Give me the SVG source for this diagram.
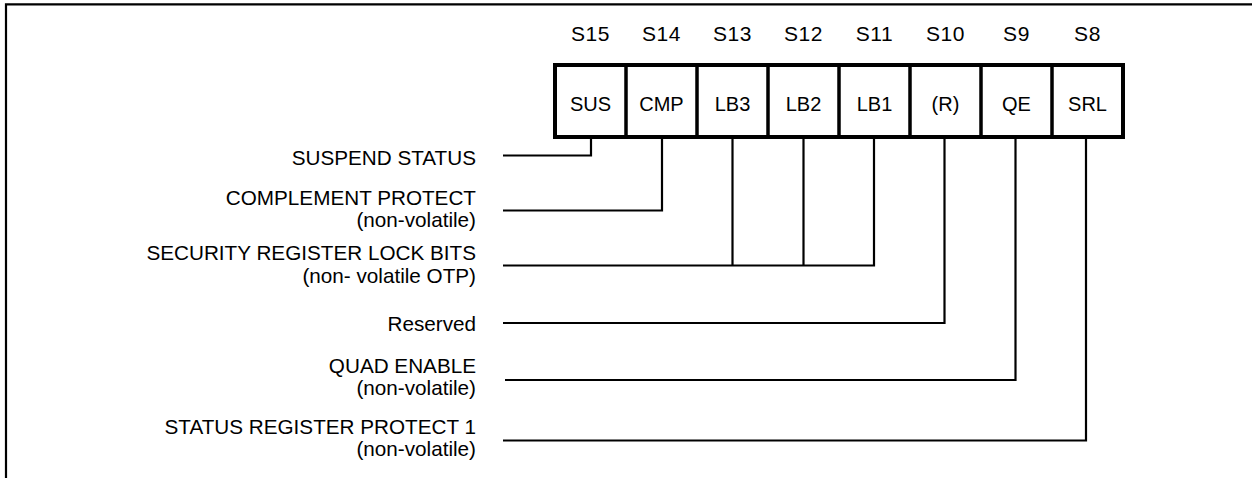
<svg xmlns="http://www.w3.org/2000/svg" width="1252" height="478" viewBox="0 0 1252 478">
<style>
text{font-family:"Liberation Sans",Arial,sans-serif;font-size:20.7px;fill:#000}
.hdr{text-anchor:middle;font-size:21px;letter-spacing:0.6px}
.cell{text-anchor:middle;font-size:20px}
.lbl{text-anchor:end}
.box{fill:#fff;stroke:#000;stroke-width:4}
.div{stroke:#000;stroke-width:3.5}
.con{fill:none;stroke:#000;stroke-width:2.2}
.frame{fill:none;stroke:#000;stroke-width:2.2}
</style>
<rect width="1252" height="478" fill="#fff"/>
<path class="frame" d="M6 478 V4.3 H1252"/>
<g id="register">
<rect class="box" x="555" y="65" width="568" height="72"/>
<path class="div" d="M626 65V137M697 65V137M768 65V137M839 65V137M910 65V137M981 65V137M1052 65V137"/>
</g>
<g id="s15"><text class="hdr" x="590.5" y="41">S15</text><text class="cell" x="590.5" y="111">SUS</text></g>
<g id="s14"><text class="hdr" x="661.5" y="41">S14</text><text class="cell" x="661.5" y="111">CMP</text></g>
<g id="s13"><text class="hdr" x="732.5" y="41">S13</text><text class="cell" x="732.5" y="111">LB3</text></g>
<g id="s12"><text class="hdr" x="803.5" y="41">S12</text><text class="cell" x="803.5" y="111">LB2</text></g>
<g id="s11"><text class="hdr" x="874.5" y="41">S11</text><text class="cell" x="874.5" y="111">LB1</text></g>
<g id="s10"><text class="hdr" x="945.5" y="41">S10</text><text class="cell" x="945.5" y="111">(R)</text></g>
<g id="s9"><text class="hdr" x="1016.5" y="41">S9</text><text class="cell" x="1016.5" y="111">QE</text></g>
<g id="s8"><text class="hdr" x="1087.5" y="41">S8</text><text class="cell" x="1087.5" y="111">SRL</text></g>
<g id="label-sus"><text class="lbl" x="476" y="165">SUSPEND STATUS</text></g>
<g id="label-cmp"><text class="lbl" x="476" y="205">COMPLEMENT PROTECT</text><text class="lbl" x="476" y="227">(non-volatile)</text></g>
<g id="label-lb"><text class="lbl" x="476" y="260">SECURITY REGISTER LOCK BITS</text><text class="lbl" x="476" y="283">(non- volatile OTP)</text></g>
<g id="label-r"><text class="lbl" x="476" y="331">Reserved</text></g>
<g id="label-qe"><text class="lbl" x="476" y="373">QUAD ENABLE</text><text class="lbl" x="476" y="395">(non-volatile)</text></g>
<g id="label-srl"><text class="lbl" x="476" y="434">STATUS REGISTER PROTECT 1</text><text class="lbl" x="476" y="456">(non-volatile)</text></g>
<g id="connectors">
<path class="con" d="M503 155.5H591V139"/>
<path class="con" d="M503 210.5H662V139"/>
<path class="con" d="M503 265.5H874V139M732.5 265.5V139M803.5 265.5V139"/>
<path class="con" d="M503 323H944.5V139"/>
<path class="con" d="M505 380H1015.5V139"/>
<path class="con" d="M503 440.5H1086V139"/>
</g>
</svg>
